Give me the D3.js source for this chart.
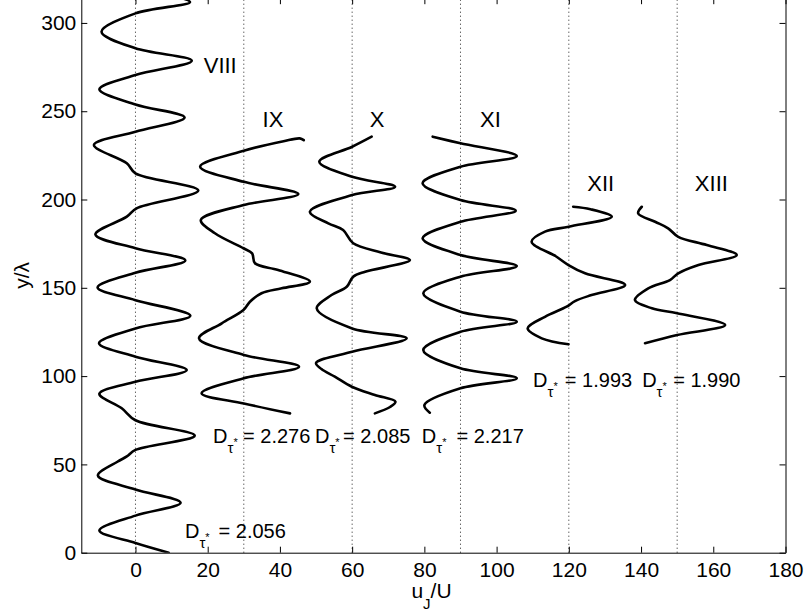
<!DOCTYPE html>
<html>
<head>
<meta charset="utf-8">
<script src="https://cdn.jsdelivr.net/npm/d3@7"></script>
<style>
body { margin: 0; background: #fff; }
svg { display: block; font-family: "Liberation Sans", Arial, sans-serif; }
</style>
</head>
<body>
<div class="graph"></div>
<script>
// profiles, each shifted by 30 in u_J/U
const profileNames = ["VIII", "IX", "X", "XI", "XII", "XIII"];
const profileShift = [0, 30, 60, 90, 120, 150];

// y/lambda and u_J/U (before shift)
const yVIII = [0, 5.5, 12.6, 21, 28.3, 35.8, 43.7, 51.5, 54.5, 58.2, 66.3, 75, 81.8, 90, 96.8, 103.4, 111, 118.6, 127, 134.2, 143, 150.2, 158.5, 165.5, 172.4, 180.2, 190.3, 195, 205.1, 214.8, 220.5, 230.9, 238.4, 246.5, 253.8, 262.4, 270.5, 278.6, 285.6, 295, 305.4, 311.8, 314.5];
const uVIII = [9.2, 0, -10, 0, 12.5, 0, -10.4, -5, -2.4, 0, 16.4, 0, -3.8, -10, 0, 14.2, 0, -10.1, 0, 15.2, 0, -10.5, 0, 13.8, 0, -11.1, -2.4, 0.3, 17.4, 0, -2.4, -11.5, 0, 13.6, 0, -10, 0, 15.6, 0, -9.4, 0, 15.1, 12];

const yIX = [78.9, 84.5, 90.3, 98.8, 105.3, 112, 121.4, 129.9, 137.4, 142.1, 146.9, 149.7, 153.5, 160.1, 163.9, 169.5, 172.4, 180.9, 188.4, 196.9, 203.1, 210, 218.6, 227.6, 233, 234.6, 233.6];
const uIX = [12.8, 0, -11.7, 0, 15.3, 0, -12.4, -6.1, -0.1, 1.7, 4.9, 10.5, 18.3, 9.5, 3.1, 2.3, -0.1, -8, -11.9, 0, 15.1, 0, -12.1, 0, 11, 15.5, 16.6];

const yX = [78.9, 82.5, 85.5, 89.3, 94, 99.7, 104, 107.4, 113.8, 121.4, 127, 138.3, 145.9, 150.6, 156.3, 159.1, 165.7, 170, 175.2, 182.7, 186.5, 193.1, 202.5, 207.2, 212.9, 221.4, 229.9, 235.6];
const uX = [6.3, 10.5, 12, 6.3, -0.1, -4.8, -8.5, -10, 0, 15.1, 0, -9.8, -5.7, -1.5, 0.3, 3.6, 16, 8, 0.3, -2.5, -6.6, -11.7, 0, 11.9, 0, -9.1, 0, 5.4];

const yXI = [79.3, 83.6, 93.1, 98.8, 104.4, 114.8, 125.1, 130.8, 136.5, 146.9, 156.3, 162.3, 168.6, 178, 187.4, 193.7, 199.7, 209.2, 218.6, 224.6, 231.8, 235.6];
const uXI = [-8.5, -10, 0, 15.6, 0, -10.3, 0, 15.6, 0, -10.3, 0, 15.6, 0, -10.5, 0, 15.3, 0, -10.5, 0, 15.6, 0, -7.7];

const yXII = [118, 121.4, 127.1, 133.6, 139.3, 142.5, 145.9, 151.6, 158.2, 162.9, 167.6, 176.1, 181.8, 184.6, 190.3, 194.5, 195.9];
const uXII = [-0.1, -7.5, -11.4, -6.6, -0.6, 1.7, 6.3, 15.6, 4.5, -0.1, -3.4, -10.3, -6.6, 0, 11.9, 6, 1.2];

const yXIII = [118.6, 123.3, 128.9, 135.6, 138.4, 143.1, 149.7, 154.4, 158.2, 162.9, 168.6, 174.2, 178.9, 183.7, 187.4, 192.2, 195.9];
const uXIII = [-8.9, 0, 13.3, 0, -7, -11.7, -8, -2, 0.3, 5.9, 16.5, 8.2, 0.3, -2.5, -6.1, -10.8, -9.8];

const profileY = [yVIII, yIX, yX, yXI, yXII, yXIII];
const profileU = [uVIII, uIX, uX, uXI, uXII, uXIII];

// fractal dimension of each profile
const dValues = ["2.056", "2.276", "2.085", "2.217", "1.993", "1.990"];

const xTicks = [0, 20, 40, 60, 80, 100, 120, 140, 160, 180];
const yTicks = [0, 50, 100, 150, 200, 250, 300];

// where the labels sit, in data units
const nameAt = [[18.9, 271.8], [35.2, 241.2], [64.9, 241.2], [95.4, 241.2], [125.1, 205], [154.9, 205]];
const dAt = [[13.7, 8.5, 23.0], [21.5, 62.1, 29.8], [49.7, 62.1, 57.5], [79.3, 62.1, 88.9], [110.1, 93.8, 118.9], [140.3, 93.8, 148.9]];

const W = 806, H = 613;
const x = d3.scaleLinear().domain([-15, 180]).range([81.3, 785.5]);
const y = d3.scaleLinear().domain([0, 314]).range([552.7, -1.8]);

const svg = d3.select(".graph").append("svg")
    .attr("width", W)
    .attr("height", H);

svg.append("clipPath").attr("id", "plotclip")
    .append("rect")
    .attr("x", x(-15)).attr("y", y(314))
    .attr("width", x(180) - x(-15)).attr("height", y(0) - y(314));

// dotted reference lines at each shift
svg.append("g").selectAll("line")
    .data(profileShift)
    .enter().append("line")
    .attr("x1", d => x(d)).attr("x2", d => x(d))
    .attr("y1", y(0)).attr("y2", y(314))
    .style("stroke", "#222")
    .style("stroke-width", 1)
    .style("stroke-dasharray", "1,3");

const line = d3.line()
    .x(d => x(d[1]))
    .y(d => y(d[0]))
    .curve(d3.curveCatmullRom.alpha(0.5));

svg.append("g").attr("clip-path", "url(#plotclip)")
    .selectAll("path")
    .data(profileY.map((ys, i) => ys.map((v, j) => [v, profileU[i][j] + profileShift[i]])))
    .enter().append("path")
    .attr("d", line)
    .style("fill", "none")
    .style("stroke", "#000")
    .style("stroke-width", 2.6)
    .style("stroke-linejoin", "round")
    .style("stroke-linecap", "round");

// axes, boxed, ticks pointing in
svg.append("g").attr("transform", "translate(0," + y(0) + ")")
    .call(d3.axisBottom(x).tickValues(xTicks).tickSizeInner(-6).tickSizeOuter(0).tickPadding(9));
svg.append("g").attr("transform", "translate(0," + y(314) + ")")
    .call(d3.axisTop(x).tickValues(xTicks).tickSizeInner(-6).tickSizeOuter(0).tickFormat(""));
svg.append("g").attr("transform", "translate(" + x(-15) + ",0)")
    .call(d3.axisLeft(y).tickValues(yTicks).tickSizeInner(-6).tickSizeOuter(0).tickPadding(5));
svg.append("g").attr("transform", "translate(" + x(180) + ",0)")
    .call(d3.axisRight(y).tickValues(yTicks).tickSizeInner(-6).tickSizeOuter(0).tickFormat(""));

svg.selectAll(".domain, .tick line").style("stroke", "#000").style("stroke-width", 1);
svg.selectAll(".tick text")
    .style("font-family", "'Liberation Sans', Arial, sans-serif")
    .style("font-size", "21px")
    .style("fill", "#000");

// profile names
svg.append("g").selectAll("text")
    .data(profileNames)
    .enter().append("text")
    .attr("x", (d, i) => x(nameAt[i][0]))
    .attr("y", (d, i) => y(nameAt[i][1]))
    .style("font-size", "22px")
    .text(d => d);

// D_tau* labels
const dl = svg.append("g").selectAll("g")
    .data(dValues)
    .enter().append("g");
dl.append("text")
    .attr("x", (d, i) => x(dAt[i][0]))
    .attr("y", (d, i) => y(dAt[i][1]))
    .style("font-size", "20px")
    .each(function () {
        const t = d3.select(this);
        t.append("tspan").text("D");
        t.append("tspan").attr("dy", 10).style("font-size", "15px").text("τ");
        t.append("tspan").attr("dy", -7).style("font-size", "11px").text("*");
    });
dl.append("text")
    .attr("x", (d, i) => x(dAt[i][2]))
    .attr("y", (d, i) => y(dAt[i][1]))
    .style("font-size", "20px")
    .text(d => "= " + d);

// axis titles
const xl = svg.append("text")
    .attr("x", 431.5)
    .attr("y", 598)
    .style("font-size", "21px")
    .style("text-anchor", "middle");
xl.append("tspan").text("u");
xl.append("tspan").attr("dy", 11).style("font-size", "15px").text("J");
xl.append("tspan").attr("dy", -11).text("/U");

svg.append("text")
    .attr("transform", "translate(29," + (y(0) + y(314)) / 2 + ") rotate(-90)")
    .style("font-size", "21px")
    .style("text-anchor", "middle")
    .text("y/λ");
</script>
</body>
</html>
